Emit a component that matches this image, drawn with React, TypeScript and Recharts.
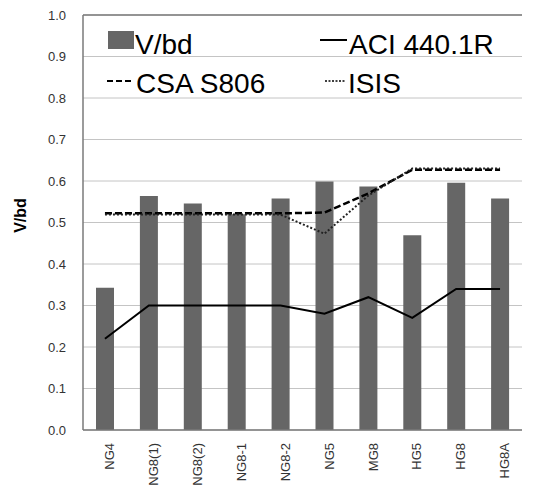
import React from 'react'
import {
  ComposedChart,
  Bar,
  Line,
  XAxis,
  YAxis,
  CartesianGrid,
  Legend,
  ReferenceLine,
} from 'recharts'

const categories = ['NG4', 'NG8(1)', 'NG8(2)', 'NG8-1', 'NG8-2', 'NG5', 'MG8', 'HG5', 'HG8', 'HG8A']
const vbd = [0.343, 0.564, 0.546, 0.52, 0.558, 0.599, 0.587, 0.469, 0.596, 0.558]
const aci = [0.22, 0.3, 0.3, 0.3, 0.3, 0.28, 0.32, 0.27, 0.34, 0.34]
const csa = [0.522, 0.522, 0.522, 0.522, 0.522, 0.524, 0.57, 0.627, 0.627, 0.627]
const isis = [0.519, 0.519, 0.519, 0.519, 0.519, 0.473, 0.565, 0.63, 0.63, 0.63]
const yTicks = [0, 0.1, 0.2, 0.3, 0.4, 0.5, 0.6, 0.7, 0.8, 0.9, 1.0]

const data = categories.map((name, i) => ({
  name,
  vbd: vbd[i],
  aci: aci[i],
  csa: csa[i],
  isis: isis[i],
}))

const FONT = '"Liberation Sans", Arial, sans-serif'
const BAR = '#666666'

// two-column legend drawn inside the plot area
function LegendBox() {
  const text = { fontSize: 28, fontFamily: FONT, fill: '#000' }
  return (
    <svg width={420} height={90}>
      <rect x={3} y={9} width={26} height={18} fill={BAR} />
      <text x={30} y={32} {...text}>V/bd</text>
      <line x1={215} x2={242} y1={18} y2={18} stroke="#000" strokeWidth={2} />
      <text x={244} y={32} {...text}>ACI 440.1R</text>
      <line x1={2} x2={28} y1={59} y2={59} stroke="#000" strokeWidth={2} strokeDasharray="6 3" />
      <text x={31} y={71} {...text}>CSA S806</text>
      <line x1={220} x2={240} y1={59} y2={59} stroke="#000" strokeWidth={1.5} strokeDasharray="2 1.5" />
      <text x={243} y={71} {...text}>ISIS</text>
    </svg>
  )
}

export default function App() {
  return (
    <div style={{ position: 'absolute', left: 0, top: 0 }}>
      <ComposedChart
        width={537}
        height={488}
        data={data}
        margin={{ top: 15, right: 15, bottom: 0, left: 0 }}
      >
        <CartesianGrid vertical={false} stroke="#c4c4c4" />
        <XAxis
          dataKey="name"
          height={58}
          interval={0}
          angle={-90}
          tick={{ fontSize: 13, fontFamily: FONT, fill: '#333', textAnchor: 'end', verticalAnchor: 'middle' }}
          tickLine={false}
          tickSize={0}
          tickMargin={13}
          axisLine={{ stroke: '#7a7a7a', strokeWidth: 1.5 }}
        />
        <YAxis
          domain={[0, 1]}
          ticks={yTicks}
          width={83}
          tickFormatter={(v: number) => v.toFixed(1)}
          tick={{ fontSize: 13, fontFamily: FONT, fill: '#333' }}
          tickLine={false}
          tickSize={0}
          tickMargin={17}
          axisLine={{ stroke: '#7a7a7a', strokeWidth: 1.5 }}
          label={{
            value: 'V/bd',
            angle: -90,
            position: 'insideLeft',
            offset: 20,
            dy: -7,
            style: { fontSize: 16, fontWeight: 'bold', fontFamily: FONT, fill: '#000', textAnchor: 'middle' },
          }}
        />
        <YAxis
          yAxisId="frame"
          orientation="right"
          domain={[0, 1]}
          width={0}
          tick={false}
          tickLine={false}
          axisLine={{ stroke: '#7a7a7a', strokeWidth: 1.5 }}
        />
        <ReferenceLine y={1} stroke="#7a7a7a" strokeWidth={1.5} />
        <Legend
          layout="vertical"
          align="center"
          verticalAlign="middle"
          wrapperStyle={{ left: 105, top: 22, width: 420 }}
          content={() => <LegendBox />}
        />
        <Bar dataKey="vbd" name="V/bd" fill={BAR} barSize={18} isAnimationActive={false} />
        <Line
          dataKey="aci"
          name="ACI 440.1R"
          stroke="#000"
          strokeWidth={2}
          dot={false}
          type="linear"
          isAnimationActive={false}
        />
        <Line
          dataKey="csa"
          name="CSA S806"
          stroke="#000"
          strokeWidth={2.5}
          strokeDasharray="7 3"
          dot={false}
          type="linear"
          isAnimationActive={false}
        />
        <Line
          dataKey="isis"
          name="ISIS"
          stroke="#222"
          strokeWidth={2}
          strokeDasharray="2 2"
          dot={false}
          type="linear"
          isAnimationActive={false}
        />
      </ComposedChart>
    </div>
  )
}
